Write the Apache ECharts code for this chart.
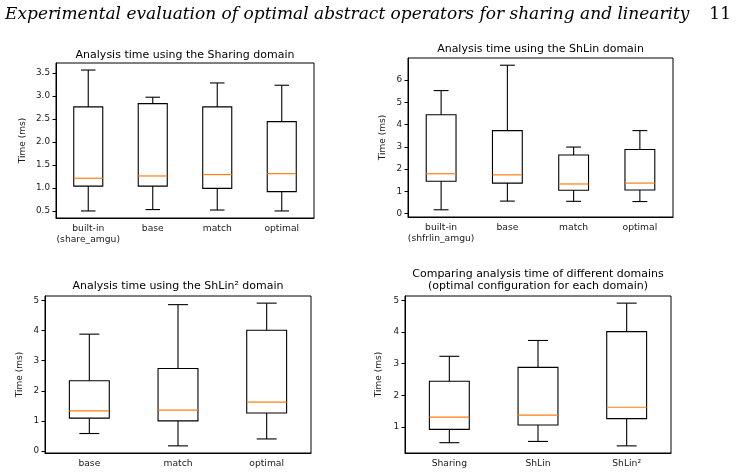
<!DOCTYPE html>
<html>
<head>
<meta charset="utf-8">
<script src="https://cdn.jsdelivr.net/npm/echarts@6/dist/echarts.min.js"></script>
<style>
  html, body { margin: 0; background: #fff; }
  #chart { width: 736px; height: 476px; }
</style>
</head>
<body>
<div id="chart"></div>
<script>
// each box: [min, q1, median, q3, max] in ms
const sharingCats = ["built-in\n(share_amgu)", "base", "match", "optimal"]
const sharingBoxes = [
  [0.5, 1.04, 1.21, 2.76, 3.56],
  [0.53, 1.04, 1.26, 2.83, 2.97],
  [0.52, 0.99, 1.29, 2.76, 3.28],
  [0.5, 0.92, 1.31, 2.44, 3.23],
]
const sharingTicks = [0.5, 1.0, 1.5, 2.0, 2.5, 3.0, 3.5]

const shlinCats = ["built-in\n(shfrlin_amgu)", "base", "match", "optimal"]
const shlinBoxes = [
  [0.17, 1.45, 1.79, 4.44, 5.53],
  [0.56, 1.37, 1.74, 3.73, 6.67],
  [0.55, 1.05, 1.33, 2.63, 2.99],
  [0.54, 1.06, 1.37, 2.88, 3.73],
]
const shlinTicks = [0, 1, 2, 3, 4, 5, 6]

const shlin2Cats = ["base", "match", "optimal"]
const shlin2Boxes = [
  [0.58, 1.09, 1.33, 2.33, 3.88],
  [0.17, 1.0, 1.36, 2.74, 4.86],
  [0.4, 1.26, 1.62, 4.01, 4.91],
]
const shlin2Ticks = [0, 1, 2, 3, 4, 5]

const compareCats = ["Sharing", "ShLin", "ShLin²"]
const compareBoxes = [
  [0.5, 0.92, 1.31, 2.44, 3.23],
  [0.54, 1.06, 1.37, 2.88, 3.73],
  [0.4, 1.26, 1.62, 4.01, 4.91],
]
const compareTicks = [1, 2, 3, 4, 5]

const textColor = "#1a1a1a"
const font = "DejaVu Sans"

const panels = [
  { title: "Analysis time using the Sharing domain", cats: sharingCats, boxes: sharingBoxes, ticks: sharingTicks, digits: 1,
    grid: { left: 56, top: 63, width: 258, height: 155 }, nameGap: 29, titleY: 55 },
  { title: "Analysis time using the ShLin domain", cats: shlinCats, boxes: shlinBoxes, ticks: shlinTicks, digits: 0,
    grid: { left: 408, top: 58, width: 265, height: 159 }, nameGap: 21, titleY: 49 },
  { title: "Analysis time using the ShLin² domain", cats: shlin2Cats, boxes: shlin2Boxes, ticks: shlin2Ticks, digits: 0,
    grid: { left: 45, top: 296, width: 266, height: 157 }, nameGap: 21, titleY: 286 },
  { title: "Comparing analysis time of different domains\n(optimal configuration for each domain)", cats: compareCats, boxes: compareBoxes, ticks: compareTicks, digits: 0,
    grid: { left: 405, top: 296, width: 266, height: 157 }, nameGap: 22, titleY: 280 },
]

// matplotlib style limits: data range padded by 5% on each side
function limits(boxes) {
  const lo = Math.min(...boxes.map((b) => b[0]))
  const hi = Math.max(...boxes.map((b) => b[4]))
  const pad = (hi - lo) * 0.05
  return [lo - pad, hi + pad]
}

function renderBox(params, api) {
  const x = api.value(0)
  const lo = api.coord([x, api.value(1)])
  const q1 = api.coord([x, api.value(2)])
  const med = api.coord([x, api.value(3)])
  const q3 = api.coord([x, api.value(4)])
  const hi = api.coord([x, api.value(5)])
  const w = api.size([1, 0])[0] * 0.45
  const cx = lo[0]
  const edge = { stroke: "#000", lineWidth: 1.1, fill: null }
  return {
    type: "group",
    children: [
      { type: "line", shape: { x1: cx, y1: q1[1], x2: cx, y2: lo[1] }, style: edge },
      { type: "line", shape: { x1: cx, y1: q3[1], x2: cx, y2: hi[1] }, style: edge },
      { type: "line", shape: { x1: cx - w / 4, y1: lo[1], x2: cx + w / 4, y2: lo[1] }, style: edge },
      { type: "line", shape: { x1: cx - w / 4, y1: hi[1], x2: cx + w / 4, y2: hi[1] }, style: edge },
      { type: "rect", shape: { x: cx - w / 2, y: q3[1], width: w, height: q1[1] - q3[1] }, style: edge },
      { type: "line", shape: { x1: cx - w / 2, y1: med[1], x2: cx + w / 2, y2: med[1] },
        style: { stroke: "#ff7f0e", lineWidth: 1.2 } },
    ],
  }
}

const myChart = echarts.init(document.getElementById("chart"))

const graphic = [
  { type: "text", x: 5, y: 15,
    style: { text: "Experimental evaluation of optimal abstract operators for sharing and linearity",
      font: 'italic 17px "DejaVu Serif"', fill: "#000", align: "left", verticalAlign: "middle" } },
  { type: "text", x: 731, y: 15,
    style: { text: "11", font: '17px "DejaVu Serif"', fill: "#000", align: "right", verticalAlign: "middle" } },
]

panels.forEach((p) => {
  graphic.push({
    type: "text",
    x: p.grid.left + p.grid.width / 2,
    y: p.titleY,
    style: { text: p.title, font: "11px " + font, fill: "#000", align: "center", verticalAlign: "middle", lineHeight: 12.5 },
  })
})

const option = {
  animation: false,
  graphic: graphic,
  grid: panels.map((p) => ({ ...p.grid, show: true, borderColor: "#000", borderWidth: 1, backgroundColor: "transparent" })),
  xAxis: panels.map((p, i) => ({
    type: "category",
    gridIndex: i,
    data: p.cats,
    boundaryGap: true,
    axisLine: { onZero: false, lineStyle: { color: "#000", width: 1 } },
    axisTick: { alignWithLabel: true, length: 3.5, lineStyle: { color: "#000" } },
    axisLabel: { fontFamily: font, fontSize: 9.2, color: textColor, margin: 5, lineHeight: 11, interval: 0 },
    splitLine: { show: false },
  })),
  yAxis: panels.map((p, i) => {
    const [min, max] = limits(p.boxes)
    return {
      type: "value",
      gridIndex: i,
      min: min,
      max: max,
      name: "Time (ms)",
      nameLocation: "middle",
      nameGap: p.nameGap,
      nameTextStyle: { fontFamily: font, fontSize: 9, color: textColor },
      axisLine: { show: true, onZero: false, lineStyle: { color: "#000", width: 1 } },
      axisTick: { show: true, length: 3.5, lineStyle: { color: "#000" }, customValues: p.ticks },
      axisLabel: {
        fontFamily: font, fontSize: 8.8, color: textColor, margin: 6,
        customValues: p.ticks,
        formatter: (v) => v.toFixed(p.digits),
      },
      splitLine: { show: false },
    }
  }),
  series: panels.map((p, i) => ({
    type: "custom",
    xAxisIndex: i,
    yAxisIndex: i,
    renderItem: renderBox,
    encode: { x: 0, y: [1, 2, 3, 4, 5] },
    data: p.boxes.map((b, j) => [j, ...b]),
    silent: true,
  })),
}

option && myChart.setOption(option)
</script>
</body>
</html>
